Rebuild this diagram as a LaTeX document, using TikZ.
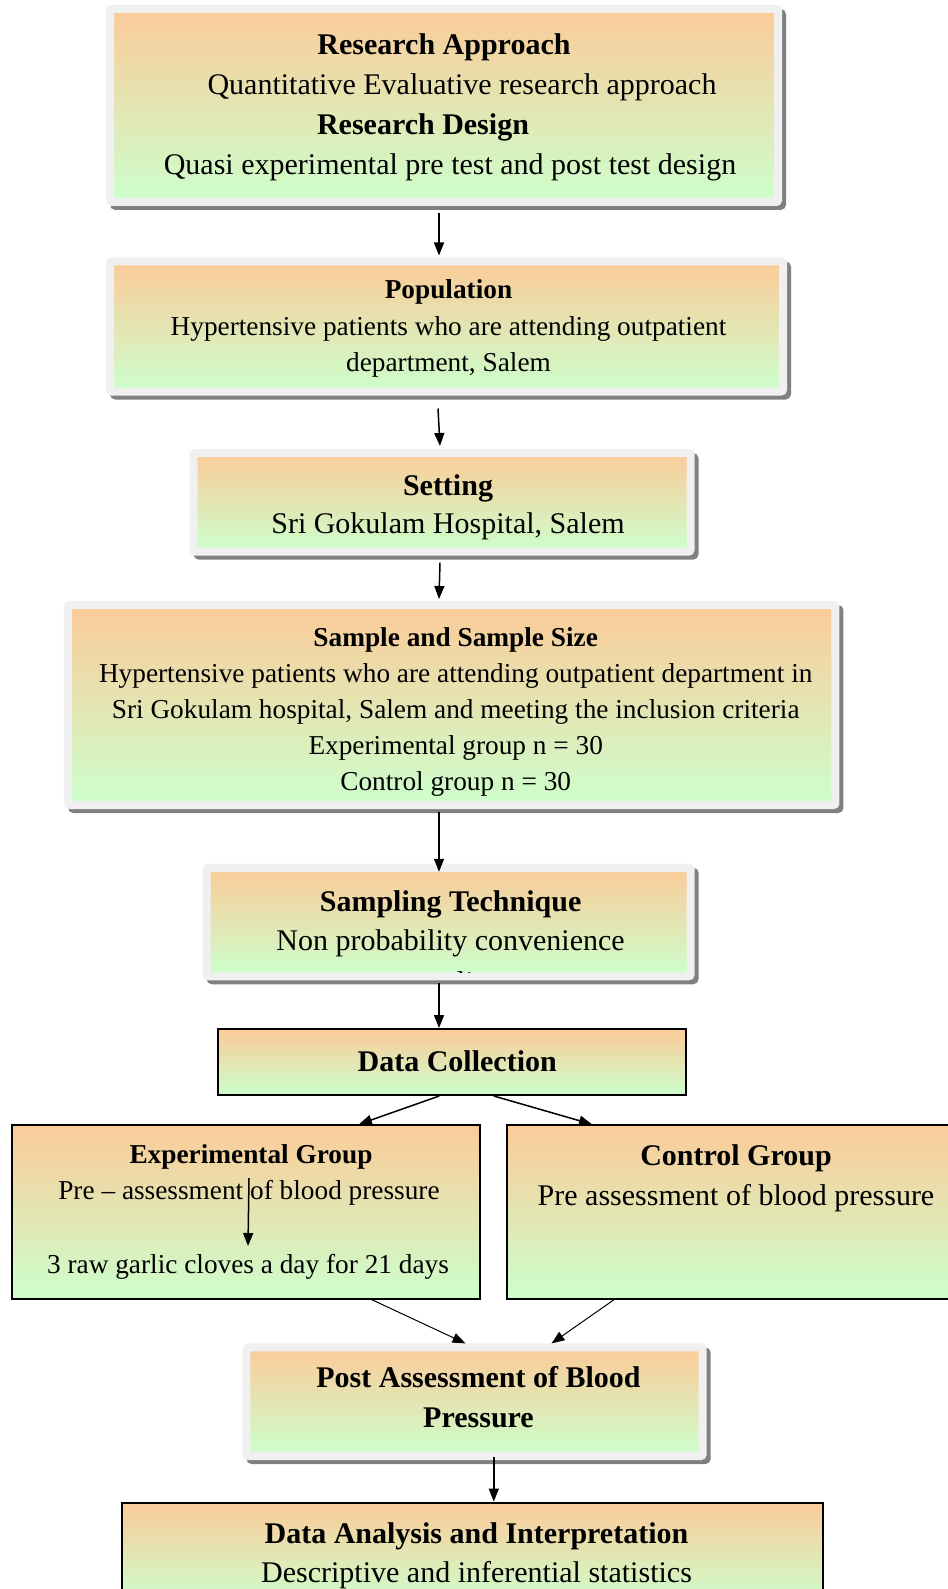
\documentclass[tikz,border=0pt]{standalone}
\usepackage{fontspec}
\setmainfont{Liberation Serif}
\usetikzlibrary{arrows.meta,shadows,positioning}
\definecolor{peach}{RGB}{251,203,153}
\definecolor{mint}{RGB}{204,255,204}
\definecolor{rimgray}{RGB}{240,240,240}
\definecolor{shadegray}{RGB}{128,128,128}
\tikzset{
rimbox/.style={draw=rimgray, line width=8pt, rounded corners=2pt, top color=peach, bottom color=mint,
  drop shadow={shadow xshift=4pt, shadow yshift=-4pt, opacity=1, fill=shadegray, draw=shadegray, line width=8pt}},
flatbox/.style={draw=black, line width=2pt, top color=peach, bottom color=mint},
boxtext/.style={align=center},
big/.style={font=\fontsize{30}{39}\selectfont},
small/.style={font=\fontsize{27.3}{36.5}\selectfont},
arr/.style={line width=1.5pt, -{Triangle[length=13pt,width=10pt]}},
thinarr/.style={line width=1pt, -{Triangle[length=13pt,width=10pt]}}
}
\begin{document}
\begin{tikzpicture}[x=1pt,y=-1pt]
\useasboundingbox (0,0) rectangle (947,1589);
\node[rimbox, minimum width=668pt, minimum height=193pt] (approach) at (444,105.5) {};
\node[boxtext, font=\fontsize{30}{40}\selectfont] (approachtext) at ([yshift=-2pt]approach.center)
  {\textbf{Research Approach}\\\hspace*{36pt}Quantitative Evaluative research approach\\\textbf{Research Design}\hspace*{42pt}\mbox{}\\\hspace*{12pt}Quasi experimental pre test and post test design};
\node[rimbox, minimum width=673pt, minimum height=130pt] (population) at (446.5,326.5) {};
\node[boxtext, small] (populationtext) at ([xshift=2pt,yshift=-2pt]population.center)
  {\textbf{Population}\\Hypertensive patients who are attending outpatient\\department, Salem};
\node[rimbox, minimum width=497pt, minimum height=98.6pt] (setting) at (442,502.3) {};
\node[boxtext, big, font=\fontsize{30}{38}\selectfont] (settingtext) at ([xshift=6pt,yshift=-4.5pt]setting.center)
  {\textbf{Setting}\\Sri Gokulam Hospital, Salem};
\node[rimbox, minimum width=767.5pt, minimum height=200pt] (sample) at (451.7,705) {};
\node[boxtext, font=\fontsize{27.3}{36}\selectfont] (sampletext) at ([xshift=4pt,yshift=-6.5pt]sample.center)
  {\textbf{Sample and Sample Size}\\Hypertensive patients who are attending outpatient department in\\Sri Gokulam hospital, Salem and meeting the inclusion criteria\\Experimental group n = 30\\Control group n = 30};
\node[rimbox, minimum width=484pt, minimum height=108.5pt] (technique) at (448.6,922) {};
\node[boxtext, big] (techniquetext) at ([xshift=2pt,yshift=-2pt]technique.center)
  {\textbf{Sampling Technique}\\Non probability convenience};
\begin{scope}
\clip ([shift={(8pt,8pt)}]technique.south west) rectangle ([shift={(-8pt,-8pt)}]technique.north east);
\node[big] (techtail) at ([yshift=-63pt]technique.center) {sampling};
\end{scope}
\node[flatbox, minimum width=468pt, minimum height=66pt] (collection) at (452.2,1062) {};
\node[big] (collectiontext) at ([xshift=5pt,yshift=1pt]collection.center) {\textbf{Data Collection}};
\node[flatbox, minimum width=467.4pt, minimum height=173.4pt] (expgroup) at (245.9,1212) {};
\node[small] (exptitle) at (251,1157) {\textbf{Experimental Group}};
\node[small] (exppre) at (249,1193) {Pre – assessment of blood pressure};
\node[small] (expgarlic) at (248,1267) {3 raw garlic cloves a day for 21 days};
\node[flatbox, minimum width=453pt, minimum height=173.4pt] (ctrlgroup) at (733.5,1212) {};
\node[big] (ctrltitle) at (736,1158) {\textbf{Control Group}};
\node[big] (ctrlpre) at (736,1198) {Pre assessment of blood pressure};
\node[rimbox, minimum width=456.4pt, minimum height=108.6pt] (post) at (474.5,1401.7) {};
\node[boxtext, font=\fontsize{30}{39.5}\selectfont] (posttext) at ([xshift=4pt,yshift=4.5pt]post.center)
  {\textbf{Post Assessment of Blood}\\\textbf{Pressure}};
\node[flatbox, minimum width=701.6pt, minimum height=100.8pt] (analysis) at (472.5,1553) {};
\node[boxtext, font=\fontsize{30}{38.6}\selectfont] (analysistext) at ([xshift=4pt,yshift=-3pt]analysis.center)
  {\textbf{Data Analysis and Interpretation}\\Descriptive and inferential statistics};
\draw[arr] ([xshift=-5pt,yshift=-7pt]approach.south) -- ([xshift=-7.5pt,yshift=2pt]population.north);
\draw[arr] ([xshift=-8.5pt,yshift=-13pt]population.south) -- ([xshift=-2pt,yshift=3pt]setting.north);
\draw[arr] ([xshift=-2pt,yshift=-7pt]setting.south) -- ([xshift=-12.7pt,yshift=2pt]sample.north);
\draw[arr] ([xshift=-12.7pt,yshift=-3pt]sample.south) -- ([xshift=-9.6pt,yshift=-8pt]technique.north);
\draw[arr] ([xshift=-9.6pt,yshift=-3pt]technique.south) -- ([xshift=-13.2pt]collection.north);
\draw[arr] ([xshift=-13pt]collection.south) -- ([xshift=113pt]expgroup.north);
\draw[arr] ([xshift=41.6pt]collection.south) -- ([xshift=86pt]ctrlgroup.north west);
\draw[arr] ([yshift=15pt]exppre.center) -- ([yshift=21pt]expgarlic.center);
\draw[thinarr] ([xshift=126pt]expgroup.south) -- ([xshift=-9pt]post.north);
\draw[thinarr] ([xshift=108pt]ctrlgroup.south west) -- ([xshift=77pt]post.north);
\draw[arr] ([xshift=19.3pt,yshift=3pt]post.south) -- ([xshift=21.3pt]analysis.north);
\end{tikzpicture}
\end{document}
